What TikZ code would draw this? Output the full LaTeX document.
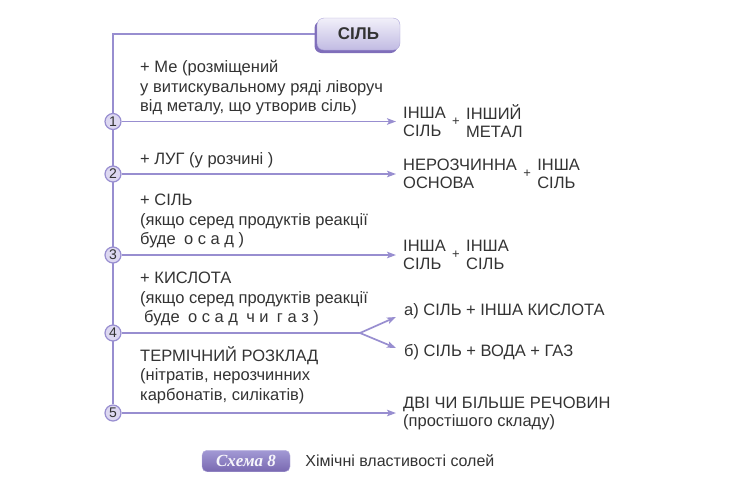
\documentclass[tikz,border=0pt]{standalone}
\usepackage{fontspec}
\setmainfont{Liberation Sans}
\newfontfamily\capfont{Liberation Serif}
\usepackage{xcolor}
\usetikzlibrary{arrows.meta, positioning, backgrounds, shadows}

\definecolor{lilac}{HTML}{988ED0}
\definecolor{lilaclight}{HTML}{DDD8F1}
\definecolor{lilacdark}{HTML}{7F6EBA}
\definecolor{txt}{HTML}{333333}

\begin{document}
\begin{tikzpicture}[x=1pt, y=-1pt,
			num/.style={circle, draw=lilac, fill=lilaclight, line width=1.2pt, minimum size=16pt,
				inner sep=0pt, font=\fontsize{14}{14}\selectfont, text=txt},
			cond/.style={anchor=base west, align=left, inner sep=0pt,
				font=\fontsize{16.5}{19.5}\selectfont, text=txt},
			prod/.style={anchor=west, align=left, inner sep=0pt,
				font=\fontsize{16.5}{18}\selectfont, text=txt},
			plus/.style={inner sep=0pt, font=\fontsize{13}{13}\selectfont, text=txt},
			ln/.style={draw=lilac, line width=1.7pt},
			arr/.style={ln, -{Stealth[length=9pt, width=6.5pt, inset=2pt]}},
			toprod/.style={arr, shorten >=7pt},
			silbox/.style={rounded corners=7pt, minimum width=83pt, minimum height=32pt,
				draw=lilac!80, top color=lilaclight!40, bottom color=lilac!60,
				drop shadow={shadow xshift=-2.5pt, shadow yshift=-3pt, fill=lilacdark, opacity=1},
				font=\bfseries\fontsize{17}{17}\selectfont, text=txt},
			capbox/.style={rounded corners=5pt, minimum width=88pt, minimum height=21.5pt,
				draw=lilac!70, top color=lilac!90, bottom color=lilacdark!95!black,
				font=\capfont\bfseries\itshape\fontsize{17}{17}\selectfont, text=white!92!lilac}
			]
			\useasboundingbox (0,0) rectangle (744,483);
			
			\node[silbox] (sil) at (358.5,34) {СІЛЬ};
			
			% numbered circles
			\node[num] (n1) at (113,121.5) {1};
			\node[num] (n2) at (113,174) {2};
			\node[num] (n3) at (113,255) {3};
			\node[num] (n4) at (113,333) {4};
			\node[num] (n5) at (113,413) {5};
			
			% conditions (base = last line)
			\node[cond] (c1) at (140,111.5) {+ Ме (розміщений\\у витискувальному ряді ліворуч\\від металу, що утворив сіль)};
			\node[cond] (c2) at (140,164) {+ ЛУГ (у розчині )};
			\node[cond] (c3) at (140,244.5) {+ СІЛЬ\\(якщо серед продуктів реакції\\буде\enspace о с а д )};
			\node[cond] (c4) at (140,322.5) {+ КИСЛОТА\\(якщо серед продуктів реакції\\\hspace{4pt}буде\enspace о с а д\enspace ч и\enspace г а з )};
			\node[cond] (c5) at (140,400) {ТЕРМІЧНИЙ РОЗКЛАД\\(нітратів, нерозчинних\\карбонатів, силікатів)};
			
			% products
			\node[prod] (p1a) at (403,121.5) {ІНША\\СІЛЬ};
			\node[plus, right=6pt of p1a] (pl1) {+};
			\node[prod, right=6pt of pl1] (p1b) {ІНШИЙ\\МЕТАЛ};
			\node[prod] (p2a) at (403,174) {НЕРОЗЧИННА\\ОСНОВА};
			\node[plus, right=6pt of p2a] (pl2) {+};
			\node[prod, right=6pt of pl2] (p2b) {ІНША\\СІЛЬ};
			\node[prod] (p3a) at (403,255) {ІНША\\СІЛЬ};
			\node[plus, right=6pt of p3a] (pl3) {+};
			\node[prod, right=6pt of pl3] (p3b) {ІНША\\СІЛЬ};
			\node[prod] (p4a) at (404,311) {а) СІЛЬ + ІНША КИСЛОТА};
			\node[prod] (p4b) at (404,352) {б) СІЛЬ + ВОДА + ГАЗ};
			\node[prod] (p5) at (403,413) {ДВІ ЧИ БІЛЬШЕ РЕЧОВИН\\(простішого складу)};
			
			\coordinate (fork) at (360,333);
			\coordinate (t4a) at (396,317);
			\coordinate (t4b) at (396,348);
			
			\begin{scope}[on background layer]
				\draw[ln] (sil.west) -| (n5);
			\end{scope}
			
			\draw[toprod] (n1) -- (p1a);
			\draw[toprod] (n2) -- (p2a);
			\draw[toprod] (n3) -- (p3a);
			\draw[ln] (n4) -- (fork);
			\draw[arr] (fork) -- (t4a);
			\draw[arr] (fork) -- (t4b);
			\draw[toprod] (n5) -- (p5);
			
			% caption
			\node[capbox] (cap) at (246,461) {Схема 8};
			\node[right=15pt of cap, inner sep=0pt, font=\fontsize{16}{16}\selectfont, text=txt] (captxt) {Хімічні властивості солей};
		\end{tikzpicture}
\end{document}
